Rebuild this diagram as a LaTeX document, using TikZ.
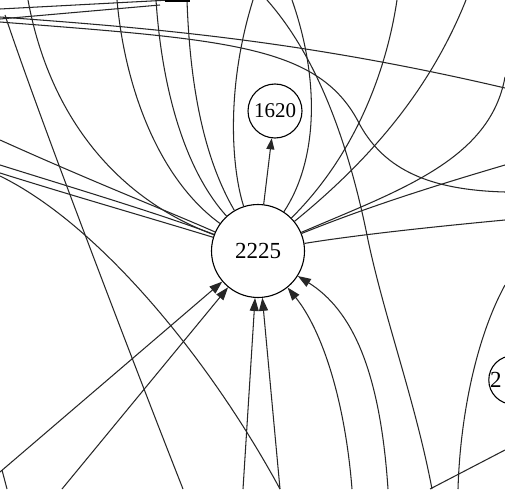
\documentclass[tikz,border=0pt]{standalone}
\usepackage{fontspec}
\setmainfont{Liberation Serif}
\usetikzlibrary{arrows.meta}

\begin{document}
\begin{tikzpicture}[
		x=1pt, y=-1pt,
		vertex/.style={draw, circle, line width=1.1pt, inner sep=0pt, fill=white, font=\fontsize{23}{26}\selectfont},
		edge/.style={draw=black!85, line width=1.05pt},
		arrow/.style={edge, -{Triangle[length=13pt, width=9pt]}}
	]
		\useasboundingbox (0,0) rectangle (505,489);
		\clip (0,0) rectangle (505,489);
		\fill[white] (0,0) rectangle (505,489);
		% nodes
		\node[vertex, minimum size=93pt] (hub) at (258,251) {2225};
		\node[vertex, minimum size=54pt, font=\fontsize{21}{24}\selectfont] (n1620) at (275,111) {1620};
		\node[vertex, minimum size=46pt] (nright) at (513,380) {2\phantom{000}};
		% free ends on the border of the cut
		\coordinate (wl1) at (0,140);
		\coordinate (wl2) at (0,165);
		\coordinate (wl3) at (0,173);
		\coordinate (wl4) at (0,176);
		\coordinate (nt1) at (117,0);
		\coordinate (nt2) at (156,0);
		\coordinate (nt3) at (187,0);
		\coordinate (nt4) at (253,0);
		\coordinate (nt5) at (292,0);
		\coordinate (nt6) at (397,0);
		\coordinate (nt7) at (466,0);
		\coordinate (nt8) at (28,0);
		\coordinate (nt9) at (267,0);
		\coordinate (er1) at (505,77);
		\coordinate (er2) at (505,165);
		\coordinate (er3) at (505,220);
		\coordinate (er4) at (505,192);
		\coordinate (er5) at (505,285);
		\coordinate (er6) at (505,450);
		\coordinate (sb1) at (0,472);
		\coordinate (sb2) at (62,489);
		\coordinate (sb3) at (243,489);
		\coordinate (sb4) at (280,489);
		\coordinate (sb5) at (352,489);
		\coordinate (sb6) at (388,489);
		% edges into 2225 from above
		\draw[edge] (wl1) .. controls (100,185) and (170,212) .. (hub);
		\draw[edge] (wl2) .. controls (80,190) and (160,214) .. (hub);
		\draw[edge] (wl3) .. controls (70,195) and (150,218) .. (hub);
		\draw[edge] (nt8) .. controls (50,120) and (120,200) .. (hub);
		\draw[edge] (nt1) .. controls (125,90) and (160,180) .. (hub);
		\draw[edge] (nt2) .. controls (162,90) and (185,170) .. (hub);
		\draw[edge] (nt3) .. controls (190,90) and (205,160) .. (hub);
		\draw[edge] (nt4) .. controls (225,90) and (232,170) .. (hub);
		\draw[edge] (nt5) .. controls (320,80) and (318,160) .. (hub);
		\draw[edge] (nt6) .. controls (385,80) and (350,160) .. (hub);
		\draw[edge] (nt7) .. controls (430,90) and (370,160) .. (hub);
		\draw[edge] (er1) .. controls (490,160) and (400,190) .. (hub);
		\draw[edge] (er2) .. controls (420,190) and (360,210) .. (hub);
		\draw[edge] (er3) .. controls (420,228) and (350,236) .. (hub);
		\draw[arrow, -{Triangle[length=11pt, width=8pt]}] (hub) -- (n1620);
		% edges into 2225 from below
		\draw[arrow] (sb1) -- (hub);
		\draw[arrow] (sb2) -- (hub);
		\draw[arrow] (sb3) -- (hub);
		\draw[arrow] (sb4) -- (hub);
		\draw[arrow] (sb5) .. controls (345,400) and (322,330) .. (hub);
		\draw[arrow] (sb6) .. controls (380,370) and (352,310) .. (hub);
		% edges passing through the cut
		\draw[edge] (0,9) -- (170,0);
		\draw[edge] (0,19) -- (160,5);
		\draw[line width=3pt] (165,1) -- (190,1);
		\draw[edge] (0,17) .. controls (150,28) and (300,40) .. (505,88);
		\draw[edge] (0,22) .. controls (230,40) and (320,45) .. (360,125)
			.. controls (385,170) and (430,190) .. (er4);
		\draw[edge] (5,15) .. controls (40,120) and (140,380) .. (183,489);
		\draw[edge] (wl4) .. controls (100,225) and (210,360) .. (280,489);
		\draw[edge] (nt9) .. controls (320,60) and (350,150) .. (368,240)
			.. controls (385,320) and (415,400) .. (432,489);
		\draw[edge] (er5) .. controls (475,340) and (460,420) .. (458,489);
		\draw[edge] (430,489) -- (er6);
		\draw[edge] (2,470) -- (7,489);
	\end{tikzpicture}
\end{document}
